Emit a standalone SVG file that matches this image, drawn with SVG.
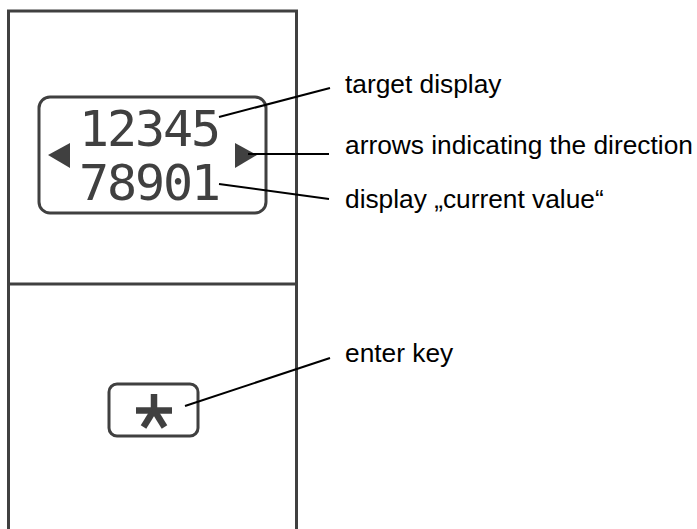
<svg xmlns="http://www.w3.org/2000/svg" width="697" height="529" viewBox="0 0 697 529">
<style>
.frame{fill:none;stroke:#404040;stroke-width:3}
.digits{font-family:"DejaVu Sans Mono",monospace;font-size:50px;fill:#404040}
.lbl{font-family:"Liberation Sans",Arial,sans-serif;font-size:26.3px;fill:#000}
.lead{stroke:#000;stroke-width:2;fill:none}
.tri{fill:#404040}
</style>
<rect width="697" height="529" fill="#fff"/>
<g id="device">
<path class="frame" d="M8.5,531 V11 H296.5 V531 M8.5,284 H296.5"/>
</g>
<g id="display">
<rect class="frame" x="39" y="97" width="227" height="116" rx="11"/>
<text class="digits" x="79" y="146" textLength="142" lengthAdjust="spacing">12345</text>
<text class="digits" x="79" y="200" textLength="142" lengthAdjust="spacing">78901</text>
<polygon class="tri" points="48,155 70,143 70,168"/>
<polygon class="tri" points="257,155 235,143 235,168"/>
</g>
<g id="enter-key">
<rect class="frame" x="109" y="384" width="89" height="52" rx="8"/>
<g stroke="#404040" stroke-width="6.5" fill="none">
<line x1="154" y1="394" x2="154" y2="411"/>
<line x1="136" y1="410.5" x2="172" y2="410.5"/>
<line x1="154" y1="410" x2="143.5" y2="427"/>
<line x1="154" y1="410" x2="164.5" y2="427"/>
</g>
</g>
<g id="connectors">
<line class="lead" x1="219" y1="117" x2="330" y2="88"/>
<line class="lead" x1="248" y1="154" x2="329" y2="154"/>
<line class="lead" x1="219" y1="184" x2="329" y2="199"/>
<line class="lead" x1="185" y1="406" x2="330" y2="358"/>
</g>
<g id="labels">
<text class="lbl" x="345" y="93">target display</text>
<text class="lbl" x="345" y="154">arrows indicating the direction</text>
<text class="lbl" x="345" y="208">display „current value“</text>
<text class="lbl" x="345" y="362">enter key</text>
</g>
</svg>
